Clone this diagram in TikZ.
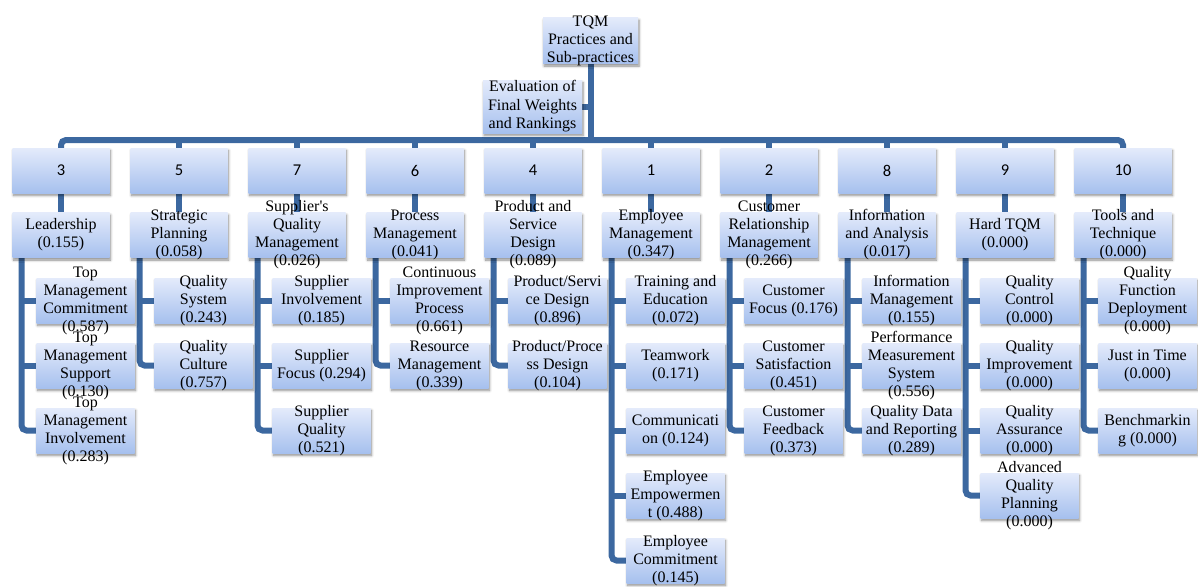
\documentclass[tikz,border=0pt]{standalone}
\usepackage{fontspec}
\setmainfont{Liberation Serif}
\newfontfamily\rankfont{Carlito}
\usetikzlibrary{shadows,shadows.blur,backgrounds}
\definecolor{conn}{RGB}{60,104,160}
\definecolor{boxtop}{RGB}{228,235,251}
\definecolor{boxbot}{RGB}{166,192,238}
\newcommand\bx[5]{\node[#1] (#2) at (#3,#4) {}; \node[txt] (#2t) at (#2) {#5};}
\begin{document}
\begin{tikzpicture}[x=1pt,y=-1pt,
  box/.style={minimum width=97pt, minimum height=45pt, inner sep=0pt,
    top color=boxtop, bottom color=boxbot, draw=none,
    blur shadow={shadow xshift=1pt, shadow yshift=-2.5pt, shadow blur radius=2.5pt,
      shadow blur steps=6, shadow opacity=45}},
  cbox/.style={box, minimum width=98pt},
  txt/.style={align=center, inner sep=0pt, font=\fontsize{16}{18}\selectfont},
  rank/.style={box, font=\rankfont\fontsize{16.5}{18}\selectfont},
  link/.style={draw=conn, line width=6pt},
  roundlink/.style={link, rounded corners=5pt}]
\useasboundingbox (0,0) rectangle (1198,586);

% top
\node[box, minimum width=95pt, minimum height=46pt] (tqm) at (590.5,40.5) {};
\node[txt] (tqmt) at (tqm) {TQM\\Practices and\\Sub-practices};
\node[box, minimum width=99pt, minimum height=53pt] (ev) at (532.5,106.5) {};
\node[txt, font=\fontsize{16}{18.5}\selectfont] (evt) at (ev) {Evaluation of\\Final Weights\\and Rankings};
\coordinate (bar) at (590.5,140);

% ranks
\node[rank] (r1) at (61,170.5) {3};
\node[rank] (r2) at (179,170.5) {5};
\node[rank] (r3) at (297,170.5) {7};
\node[rank] (r4) at (415,170.5) {6};
\node[rank] (r5) at (533,170.5) {4};
\node[rank] (r6) at (651,170.5) {1};
\node[rank] (r7) at (769,170.5) {2};
\node[rank] (r8) at (887,170.5) {8};
\node[rank] (r9) at (1005,170.5) {9};
\node[rank] (r10) at (1123,170.5) {10};

% practices
\bx{box}{p1}{61}{235}{Leadership\\(0.155)}
\bx{box}{p2}{179}{235}{Strategic\\Planning\\(0.058)}
\bx{box}{p3}{297}{235}{Supplier\textquotesingle s\\Quality\\Management\\(0.026)}
\bx{box}{p4}{415}{235}{Process\\Management\\(0.041)}
\bx{box}{p5}{533}{235}{Product and\\Service\\Design\\(0.089)}
\bx{box}{p6}{651}{235}{Employee\\Management\\(0.347)}
\bx{box}{p7}{769}{235}{Customer\\Relationship\\Management\\(0.266)}
\bx{box}{p8}{887}{235}{Information\\and Analysis\\(0.017)}
\bx{box}{p9}{1005}{235}{Hard TQM\\(0.000)}
\bx{box}{p10}{1123}{235}{Tools and\\Technique\\(0.000)}

% sub-practices
\bx{cbox}{c1a}{85.5}{300.5}{Top\\Management\\Commitment\\(0.587)}
\bx{cbox}{c1b}{85.5}{365.5}{Top\\Management\\Support\\(0.130)}
\bx{cbox}{c1c}{85.5}{430.5}{Top\\Management\\Involvement\\(0.283)}

\bx{cbox}{c2a}{203.5}{300.5}{Quality\\System\\(0.243)}
\bx{cbox}{c2b}{203.5}{365.5}{Quality\\Culture\\(0.757)}

\bx{cbox}{c3a}{321.5}{300.5}{Supplier\\Involvement\\(0.185)}
\bx{cbox}{c3b}{321.5}{365.5}{Supplier\\Focus (0.294)}
\bx{cbox}{c3c}{321.5}{430.5}{Supplier\\Quality\\(0.521)}

\bx{cbox}{c4a}{439.5}{300.5}{Continuous\\Improvement\\Process\\(0.661)}
\bx{cbox}{c4b}{439.5}{365.5}{Resource\\Management\\(0.339)}

\bx{cbox}{c5a}{557.5}{300.5}{Product/Servi\\ce Design\\(0.896)}
\bx{cbox}{c5b}{557.5}{365.5}{Product/Proce\\ss Design\\(0.104)}

\bx{cbox}{c6a}{675.5}{300.5}{Training and\\Education\\(0.072)}
\bx{cbox}{c6b}{675.5}{365.5}{Teamwork\\(0.171)}
\bx{cbox}{c6c}{675.5}{430.5}{Communicati\\on (0.124)}
\bx{cbox}{c6d}{675.5}{495.5}{Employee\\Empowermen\\t (0.488)}
\bx{cbox}{c6e}{675.5}{560.5}{Employee\\Commitment\\(0.145)}

\bx{cbox}{c7a}{793.5}{300.5}{Customer\\Focus (0.176)}
\bx{cbox}{c7b}{793.5}{365.5}{Customer\\Satisfaction\\(0.451)}
\bx{cbox}{c7c}{793.5}{430.5}{Customer\\Feedback\\(0.373)}

\bx{cbox}{c8a}{911.5}{300.5}{Information\\Management\\(0.155)}
\bx{cbox}{c8b}{911.5}{365.5}{Performance\\Measurement\\System\\(0.556)}
\bx{cbox}{c8c}{911.5}{430.5}{Quality Data\\and Reporting\\(0.289)}

\bx{cbox}{c9a}{1029.5}{300.5}{Quality\\Control\\(0.000)}
\bx{cbox}{c9b}{1029.5}{365.5}{Quality\\Improvement\\(0.000)}
\bx{cbox}{c9c}{1029.5}{430.5}{Quality\\Assurance\\(0.000)}
\bx{cbox}{c9d}{1029.5}{495.5}{Advanced\\Quality\\Planning\\(0.000)}

\bx{cbox}{c10a}{1147.5}{300.5}{Quality\\Function\\Deployment\\(0.000)}
\bx{cbox}{c10b}{1147.5}{365.5}{Just in Time\\(0.000)}
\bx{cbox}{c10c}{1147.5}{430.5}{Benchmarkin\\g (0.000)}

% spine points of the sub-practice brackets
\coordinate (v1) at (21.5,256);
\coordinate (v2) at (139.5,256);
\coordinate (v3) at (257.5,256);
\coordinate (v4) at (375.5,256);
\coordinate (v5) at (493.5,256);
\coordinate (v6) at (611.5,256);
\coordinate (v7) at (729.5,256);
\coordinate (v8) at (847.5,256);
\coordinate (v9) at (965.5,256);
\coordinate (v10) at (1083.5,256);

\begin{pgfonlayer}{background}
  % trunk and bar
  \draw[link] (tqm.south) -- (tqm.south |- bar);
  \draw[link] (ev.east) -- (ev.east -| tqm.south);
  \draw[roundlink] (r1.north) |- (r10.north |- bar) -- (r10.north);
  \foreach \r in {r2,r3,r4,r5,r6,r7,r8,r9}
    \draw[link] (\r.north) -- (\r.north |- bar);
  % rank to practice
  \foreach \i in {1,...,10}
    \draw[link] (r\i.south) -- (p\i.north);
  % brackets
  \draw[roundlink] (v1) |- (c1c.west);
  \draw[link] (c1a.west) -- (c1a.west -| v1);
  \draw[link] (c1b.west) -- (c1b.west -| v1);
  \draw[roundlink] (v2) |- (c2b.west);
  \draw[link] (c2a.west) -- (c2a.west -| v2);
  \draw[roundlink] (v3) |- (c3c.west);
  \draw[link] (c3a.west) -- (c3a.west -| v3);
  \draw[link] (c3b.west) -- (c3b.west -| v3);
  \draw[roundlink] (v4) |- (c4b.west);
  \draw[link] (c4a.west) -- (c4a.west -| v4);
  \draw[roundlink] (v5) |- (c5b.west);
  \draw[link] (c5a.west) -- (c5a.west -| v5);
  \draw[roundlink] (v6) |- (c6e.west);
  \foreach \c in {c6a,c6b,c6c,c6d}
    \draw[link] (\c.west) -- (\c.west -| v6);
  \draw[roundlink] (v7) |- (c7c.west);
  \draw[link] (c7a.west) -- (c7a.west -| v7);
  \draw[link] (c7b.west) -- (c7b.west -| v7);
  \draw[roundlink] (v8) |- (c8c.west);
  \draw[link] (c8a.west) -- (c8a.west -| v8);
  \draw[link] (c8b.west) -- (c8b.west -| v8);
  \draw[roundlink] (v9) |- (c9d.west);
  \foreach \c in {c9a,c9b,c9c}
    \draw[link] (\c.west) -- (\c.west -| v9);
  \draw[roundlink] (v10) |- (c10c.west);
  \draw[link] (c10a.west) -- (c10a.west -| v10);
  \draw[link] (c10b.west) -- (c10b.west -| v10);
\end{pgfonlayer}
\end{tikzpicture}
\end{document}
